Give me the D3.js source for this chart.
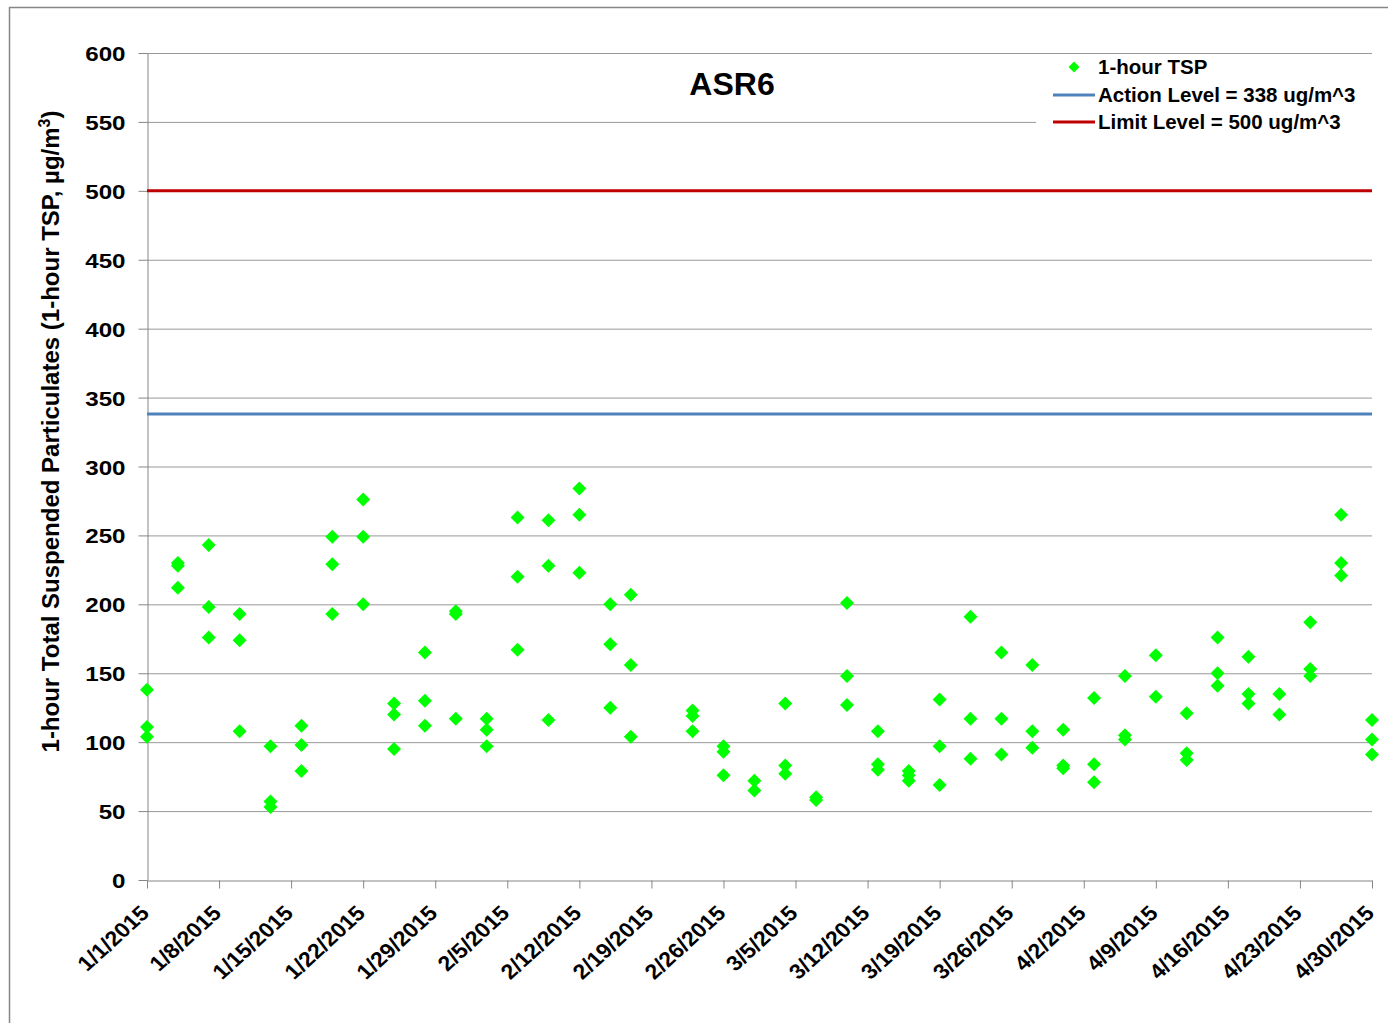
<!DOCTYPE html>
<html>
<head>
<meta charset="utf-8">
<script src="https://cdn.jsdelivr.net/npm/d3@7"></script>
<style>
  body { margin: 0; background: #fff; }
  svg { font-family: "Liberation Sans", Arial, sans-serif; }
  .axis text { font-size: 21px; font-weight: bold; fill: #000; }
  .axis path, .axis line { stroke: #868686; }
</style>
</head>
<body>
<svg id="chart"></svg>
<script>
// sampling days (every 3 days) and the 1-hour TSP readings on each
const sampleDates = ["1/1/2015","1/4/2015","1/7/2015","1/10/2015","1/13/2015","1/16/2015","1/19/2015","1/22/2015",
  "1/25/2015","1/28/2015","1/31/2015","2/3/2015","2/6/2015","2/9/2015","2/12/2015","2/15/2015","2/17/2015",
  "2/23/2015","2/26/2015","3/1/2015","3/4/2015","3/7/2015","3/10/2015","3/13/2015","3/16/2015","3/19/2015",
  "3/22/2015","3/25/2015","3/28/2015","3/31/2015","4/3/2015","4/6/2015","4/9/2015","4/12/2015","4/15/2015",
  "4/18/2015","4/21/2015","4/24/2015","4/27/2015","4/30/2015"];
const readings = [
  [138, 111, 104], [230, 228, 212], [243, 198, 176], [193, 174, 108], [97, 57, 53], [112, 98, 79],
  [249, 229, 193], [276, 249, 200], [128, 120, 95], [165, 130, 112], [195, 193, 117], [117, 109, 97],
  [263, 220, 167], [261, 228, 116], [284, 265, 223], [200, 171, 125], [207, 156, 104],
  [123, 119, 108], [97, 93, 76], [72, 65], [128, 83, 77], [60, 58], [201, 148, 127], [108, 84, 80],
  [79, 76, 72], [131, 97, 69], [191, 117, 88], [165, 117, 91], [156, 108, 96], [109, 83, 81],
  [132, 84, 71], [148, 105, 102], [163, 133], [121, 92, 87], [176, 150, 141], [162, 135, 128],
  [135, 120], [187, 153, 148], [265, 230, 221], [116, 102, 91]
];
const tickLabels = ["1/1/2015","1/8/2015","1/15/2015","1/22/2015","1/29/2015","2/5/2015","2/12/2015","2/19/2015",
  "2/26/2015","3/5/2015","3/12/2015","3/19/2015","3/26/2015","4/2/2015","4/9/2015","4/16/2015","4/23/2015","4/30/2015"];
const yTicks = [0, 50, 100, 150, 200, 250, 300, 350, 400, 450, 500, 550, 600];
const actionLevel = 338;
const limitLevel = 500;
const legendLabels = ["1-hour TSP", "Action Level = 338 ug/m^3", "Limit Level = 500 ug/m^3"];

const width = 1388, height = 1023;
const margin = {top: 53, right: 16, bottom: 143, left: 147};
const parse = d3.utcParse("%m/%d/%Y");

const svg = d3.select("#chart").attr("width", width).attr("height", height);

// outer chart border
svg.append("rect")
    .attr("x", 9.5).attr("y", 7.5)
    .attr("width", 1500).attr("height", 1200)
    .attr("fill", "none").attr("stroke", "#868686").attr("stroke-width", 1.5);

const x = d3.scaleUtc()
    .domain([parse("1/1/2015"), parse("4/30/2015")])
    .range([margin.left, width - margin.right]);

const y = d3.scaleLinear()
    .domain([0, 600])
    .range([height - margin.bottom, margin.top]);

// gridlines
svg.append("g")
  .selectAll("line")
  .data(yTicks.filter(d => d > 0))
  .join("line")
    .attr("x1", x.range()[0]).attr("x2", x.range()[1])
    .attr("y1", d => y(d) + 0.5).attr("y2", d => y(d) + 0.5)
    .attr("stroke", "#999").attr("stroke-width", 1);

// y axis
const yAxisG = svg.append("g")
    .attr("class", "axis")
    .attr("transform", `translate(${margin.left + 0.5},0)`)
    .call(d3.axisLeft(y).tickValues(yTicks).tickSize(9).tickSizeOuter(0));
yAxisG.selectAll("text")
    .attr("x", 0)
    .attr("dy", "0.36em")
    .attr("transform", "translate(-22,0) scale(1.15,1)");

// x axis
const xAxisG = svg.append("g")
    .attr("class", "axis")
    .attr("transform", `translate(0,${y(0) + 0.5})`)
    .call(d3.axisBottom(x).tickValues(tickLabels.map(parse)).tickSize(8).tickSizeOuter(0)
      .tickFormat((d, i) => tickLabels[i]));
xAxisG.selectAll("text")
    .attr("text-anchor", "end")
    .attr("dy", null)
    .attr("x", 0).attr("y", 0)
    .attr("transform", "translate(3,34) scale(1.1,1) rotate(-45)");

// level lines
svg.append("line")
    .attr("x1", x.range()[0]).attr("x2", x.range()[1])
    .attr("y1", y(actionLevel)).attr("y2", y(actionLevel))
    .attr("stroke", "#4F81BD").attr("stroke-width", 3);
svg.append("line")
    .attr("x1", x.range()[0]).attr("x2", x.range()[1])
    .attr("y1", y(limitLevel)).attr("y2", y(limitLevel))
    .attr("stroke", "#C00000").attr("stroke-width", 3);

// points
const points = [];
sampleDates.forEach((d, i) => readings[i].forEach(v => points.push({date: parse(d), value: v})));

const diamond = d3.symbol().type(d3.symbolSquare).size(98);
svg.append("g")
  .selectAll("path")
  .data(points)
  .join("path")
    .attr("d", diamond)
    .attr("transform", d => `translate(${x(d.date)},${y(d.value)}) rotate(45)`)
    .attr("fill", "#00FF00");

// title
svg.append("text")
    .attr("x", 732).attr("y", 95)
    .attr("text-anchor", "middle")
    .style("font-size", "32px").style("font-weight", "bold")
    .text("ASR6");

// y axis title
const yTitle = svg.append("text")
    .attr("transform", `translate(59,${(y(0) + y(600)) / 2 - 35}) rotate(-90)`)
    .attr("text-anchor", "middle")
    .style("font-size", "24px").style("font-weight", "bold");
yTitle.append("tspan").text("1-hour Total Suspended Particulates (1-hour TSP, µg/m");
yTitle.append("tspan").attr("dy", -9).style("font-size", "16px").text("3");
yTitle.append("tspan").attr("dy", 9).text(")");

// legend
const legend = svg.append("g");
legend.append("rect")
    .attr("x", 1036).attr("y", 55).attr("width", 340).attr("height", 82)
    .attr("fill", "#fff");
legend.append("path")
    .attr("d", d3.symbol().type(d3.symbolSquare).size(60))
    .attr("transform", "translate(1074,67) rotate(45)")
    .attr("fill", "#00FF00");
legend.append("line")
    .attr("x1", 1053).attr("x2", 1095).attr("y1", 95).attr("y2", 95)
    .attr("stroke", "#4F81BD").attr("stroke-width", 3);
legend.append("line")
    .attr("x1", 1053).attr("x2", 1095).attr("y1", 122).attr("y2", 122)
    .attr("stroke", "#C00000").attr("stroke-width", 3);
legend.selectAll("text.lab")
  .data(legendLabels)
  .join("text")
    .attr("class", "lab")
    .attr("x", 1098)
    .attr("y", (d, i) => 74 + i * 27.5)
    .attr("textLength", d => null)
    .style("font-size", "20.5px").style("font-weight", "bold")
    .text(d => d);
</script>
</body>
</html>
